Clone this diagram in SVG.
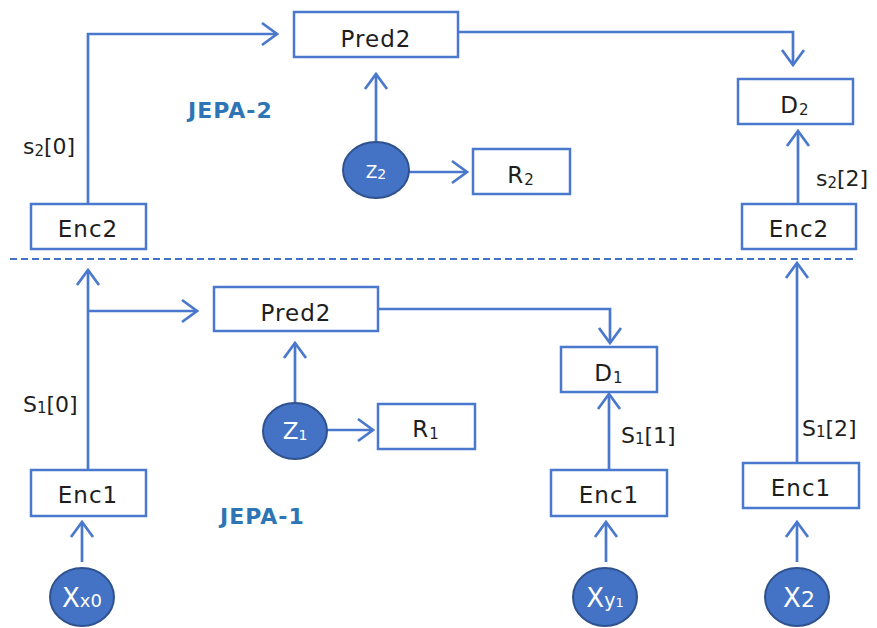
<svg xmlns="http://www.w3.org/2000/svg" width="877" height="628" viewBox="0 0 877 628">
  <style>
    .box { fill: #ffffff; stroke: #4a78cc; stroke-width: 2.5; }
    .lbl { font-family: "DejaVu Sans", "Liberation Sans", sans-serif; font-size: 23px; fill: #1e1e1e; text-anchor: middle; letter-spacing: 1px; }
    .side { font-family: "DejaVu Sans", "Liberation Sans", sans-serif; font-size: 22px; fill: #1e1e1e; }
    .sub { font-size: 15px; }
    .node { fill: #4472c4; stroke: #2f528f; stroke-width: 2; }
    .ntxt { font-family: "DejaVu Sans", "Liberation Sans", sans-serif; fill: #ffffff; text-anchor: middle; }
    .title { font-family: "DejaVu Sans", "Liberation Sans", sans-serif; font-weight: bold; font-size: 22px; fill: #2e75b6; letter-spacing: 1px; }
    .wire { fill: none; stroke: #4a78cc; stroke-width: 2.7; }
  </style>
  <defs>
    <marker id="arrow" viewBox="-17 -13 19 26" refX="0" refY="0" markerWidth="19" markerHeight="26" orient="auto" markerUnits="userSpaceOnUse">
      <path d="M-15,-11 L0,0 L-15,11" fill="none" stroke="#4a78cc" stroke-width="2.7"/>
    </marker>
  </defs>

  <rect width="877" height="628" fill="#ffffff"/>

  <!-- separator between the two levels -->
  <line x1="10" y1="259" x2="855" y2="259" stroke="#4472c4" stroke-width="2" stroke-dasharray="7,4"/>

  <!-- connectors -->
  <g id="connectors">
    <path class="wire" d="M88,204 V34 H277" marker-end="url(#arrow)"/>
    <path class="wire" d="M458,32 H793 V65" marker-end="url(#arrow)"/>
    <path class="wire" d="M376,142 V74" marker-end="url(#arrow)"/>
    <path class="wire" d="M409,172 H467" marker-end="url(#arrow)"/>
    <path class="wire" d="M798,204 V131" marker-end="url(#arrow)"/>

    <path class="wire" d="M88,470 V270" marker-end="url(#arrow)"/>
    <path class="wire" d="M88,311 H197" marker-end="url(#arrow)"/>
    <path class="wire" d="M378,309 H610 V343" marker-end="url(#arrow)"/>
    <path class="wire" d="M295,403 V343" marker-end="url(#arrow)"/>
    <path class="wire" d="M327,430 H373" marker-end="url(#arrow)"/>
    <path class="wire" d="M609,470 V394" marker-end="url(#arrow)"/>
    <path class="wire" d="M797,463 V263" marker-end="url(#arrow)"/>
    <path class="wire" d="M82,562 V522" marker-end="url(#arrow)"/>
    <path class="wire" d="M606,562 V522" marker-end="url(#arrow)"/>
    <path class="wire" d="M797,562 V522" marker-end="url(#arrow)"/>
  </g>

  <!-- edge labels -->
  <text class="side" x="23" y="154">s<tspan class="sub" dy="2">2</tspan><tspan dy="-2">[0]</tspan></text>
  <text class="side" x="816" y="186">s<tspan class="sub" dy="2">2</tspan><tspan dy="-2">[2]</tspan></text>
  <text class="side" x="23" y="412">S<tspan class="sub" dy="1">1</tspan><tspan dy="-1">[0]</tspan></text>
  <text class="side" x="621" y="443">S<tspan class="sub" dy="1">1</tspan><tspan dy="-1">[1]</tspan></text>
  <text class="side" x="802" y="436">S<tspan class="sub" dy="1">1</tspan><tspan dy="-1">[2]</tspan></text>

  <!-- level titles -->
  <text class="title" x="188" y="118">JEPA-2</text>
  <text class="title" x="220" y="524">JEPA-1</text>

  <!-- upper level -->
  <g id="pred2-top">
    <rect class="box" x="294" y="12" width="164" height="45"/>
    <text class="lbl" x="376" y="47">Pred2</text>
  </g>
  <g id="d2">
    <rect class="box" x="738" y="79" width="115" height="45"/>
    <text class="lbl" x="795" y="113">D<tspan class="sub" dy="2">2</tspan></text>
  </g>
  <g id="r2">
    <rect class="box" x="473" y="149" width="97" height="45"/>
    <text class="lbl" x="521" y="183">R<tspan class="sub" dy="2">2</tspan></text>
  </g>
  <g id="enc2-left">
    <rect class="box" x="31" y="204" width="115" height="45"/>
    <text class="lbl" x="88" y="237">Enc2</text>
  </g>
  <g id="enc2-right">
    <rect class="box" x="742" y="204" width="114" height="45"/>
    <text class="lbl" x="799" y="237">Enc2</text>
  </g>
  <g id="z2">
    <ellipse class="node" cx="376" cy="170" rx="33" ry="28"/>
    <text class="ntxt" x="376" y="178" font-size="17">Z<tspan font-size="14" dy="1">2</tspan></text>
  </g>

  <!-- lower level -->
  <g id="pred2-bottom">
    <rect class="box" x="214" y="287" width="164" height="44"/>
    <text class="lbl" x="296" y="321">Pred2</text>
  </g>
  <g id="d1">
    <rect class="box" x="561" y="347" width="96" height="45"/>
    <text class="lbl" x="609" y="381">D<tspan class="sub" dy="2">1</tspan></text>
  </g>
  <g id="r1">
    <rect class="box" x="378" y="404" width="97" height="45"/>
    <text class="lbl" x="426" y="437">R<tspan class="sub" dy="2">1</tspan></text>
  </g>
  <g id="enc1-left">
    <rect class="box" x="31" y="470" width="115" height="46"/>
    <text class="lbl" x="88" y="503">Enc1</text>
  </g>
  <g id="enc1-mid">
    <rect class="box" x="551" y="470" width="116" height="46"/>
    <text class="lbl" x="609" y="503">Enc1</text>
  </g>
  <g id="enc1-right">
    <rect class="box" x="743" y="463" width="116" height="45"/>
    <text class="lbl" x="801" y="496">Enc1</text>
  </g>
  <g id="z1">
    <ellipse class="node" cx="295" cy="431" rx="32" ry="28"/>
    <text class="ntxt" x="295" y="439" font-size="23">Z<tspan font-size="14" dy="1">1</tspan></text>
  </g>
  <g id="x-x0">
    <ellipse class="node" cx="82" cy="597" rx="32" ry="29"/>
    <text class="ntxt" x="82" y="607" font-size="26">X<tspan font-size="18">x0</tspan></text>
  </g>
  <g id="x-y1">
    <ellipse class="node" cx="605" cy="597" rx="32" ry="29"/>
    <text class="ntxt" x="605" y="607" font-size="26">X<tspan font-size="19">y</tspan><tspan font-size="13">1</tspan></text>
  </g>
  <g id="x2">
    <ellipse class="node" cx="797" cy="597" rx="32" ry="29"/>
    <text class="ntxt" x="799" y="607" font-size="26">X<tspan font-size="22">2</tspan></text>
  </g>
</svg>
